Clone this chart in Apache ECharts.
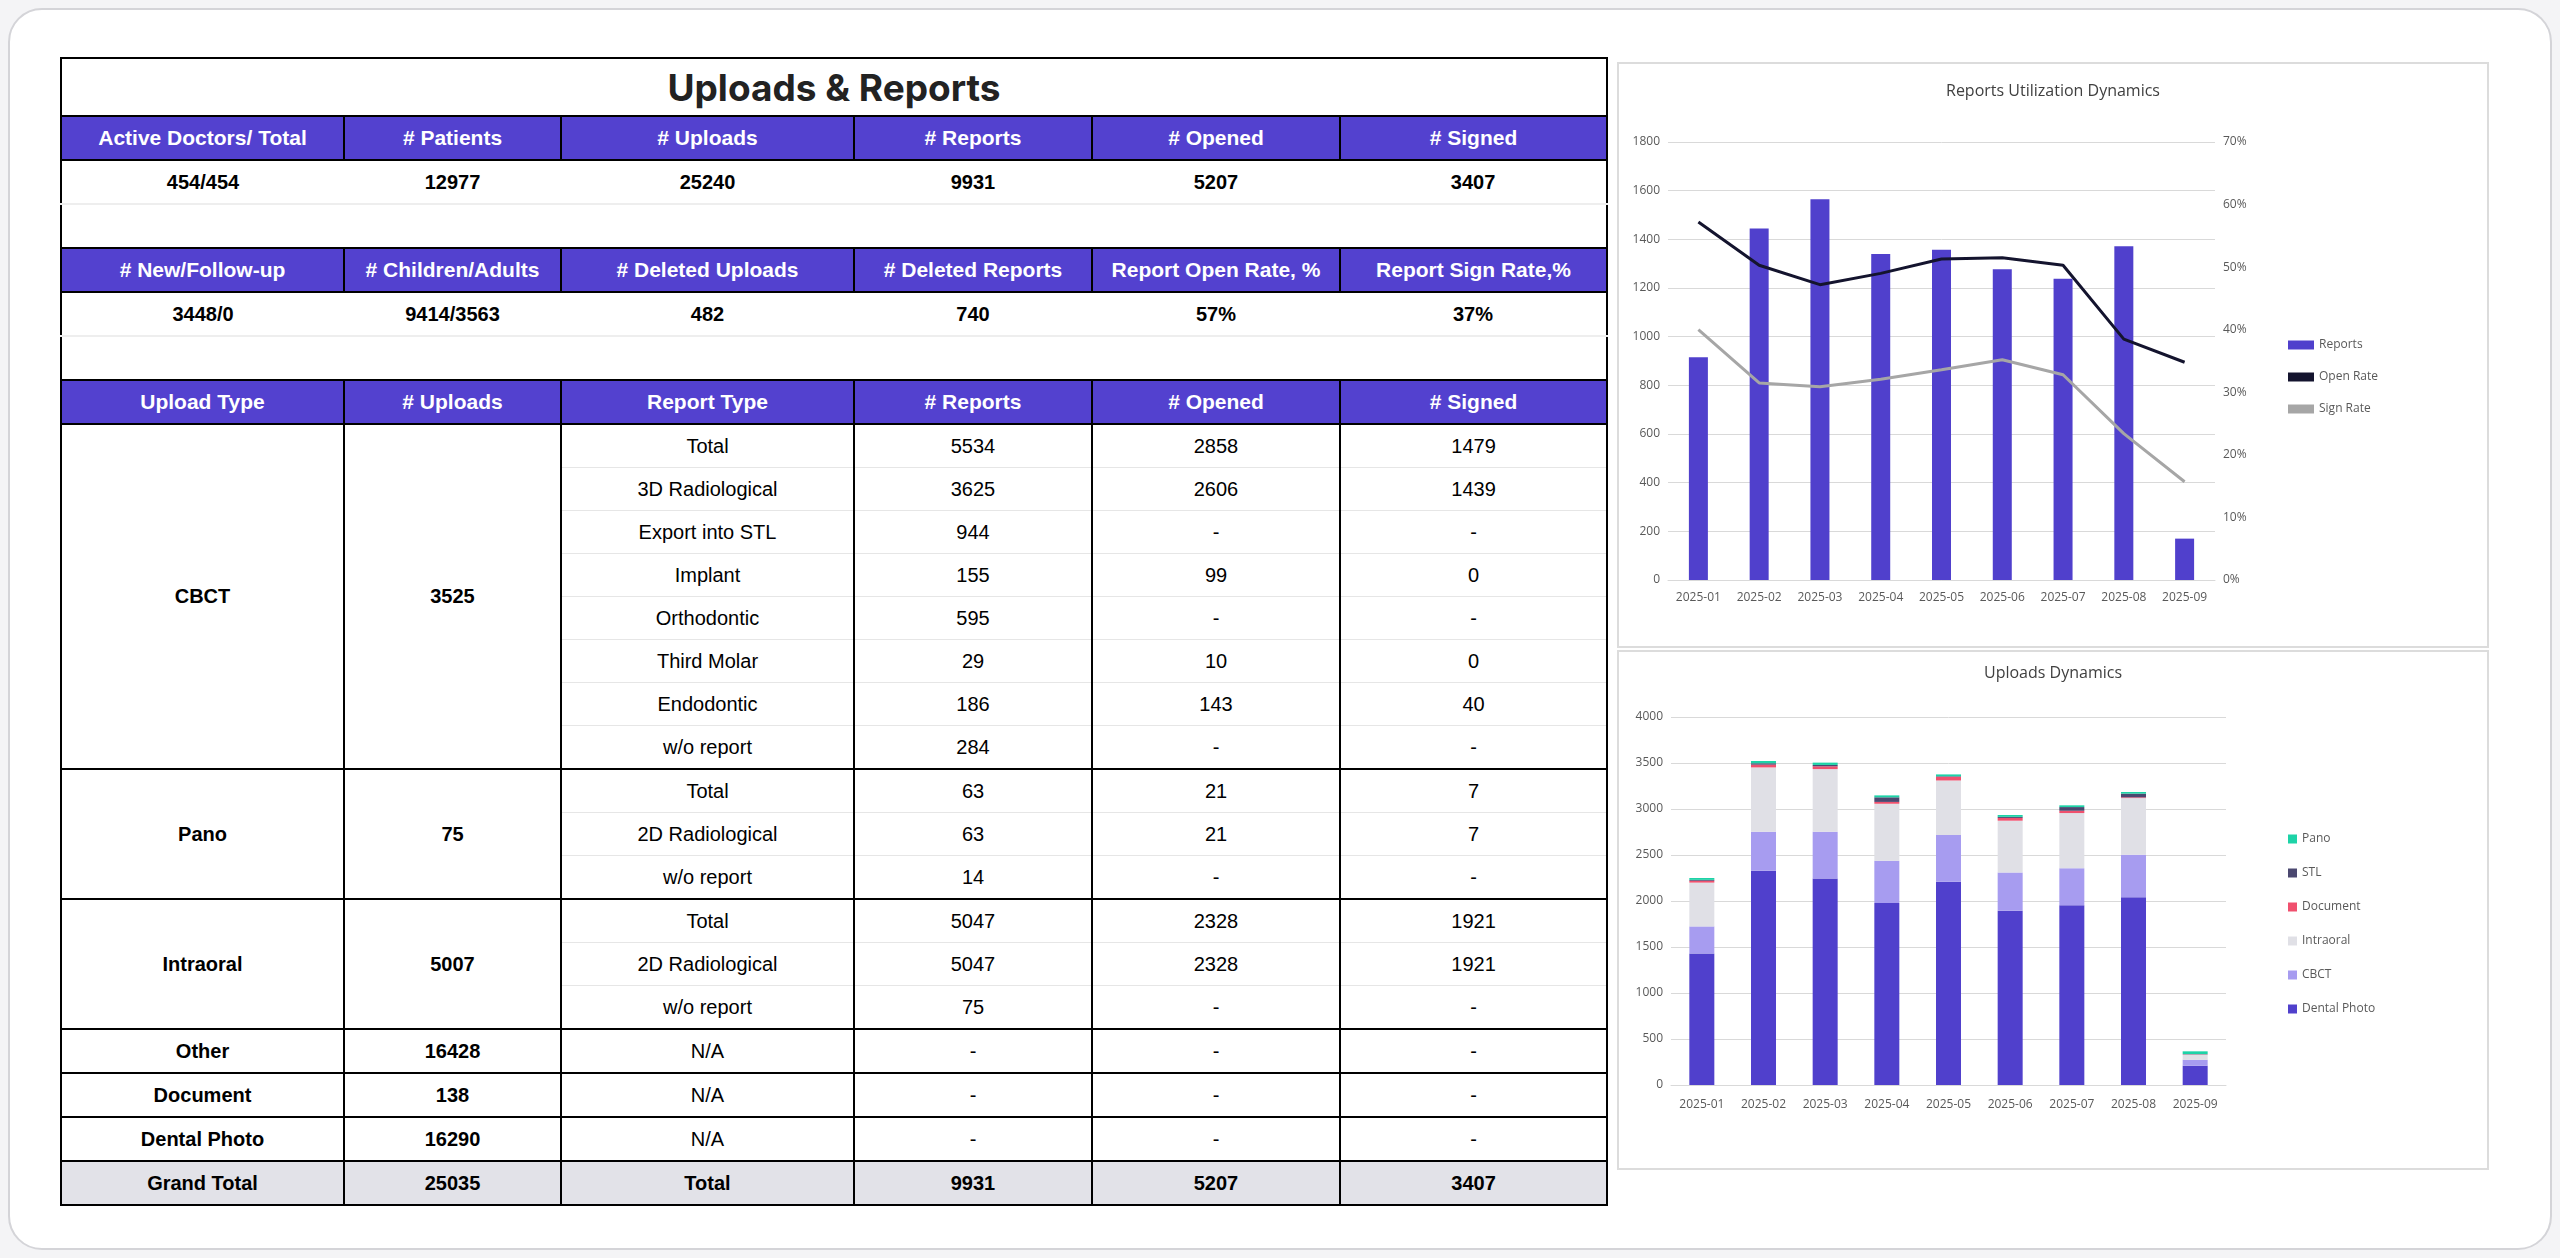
<!DOCTYPE html>
<html>
<head>
<meta charset="utf-8">
<script src="https://cdn.jsdelivr.net/npm/echarts@6/dist/echarts.min.js"></script>
<style>
  html, body { margin: 0; padding: 0; background: #f4f4f6; }
  body { width: 2560px; height: 1258px; position: relative; overflow: hidden; font-family: "Liberation Sans", Arial, sans-serif; }
  #card { position: absolute; left: 8px; top: 8px; width: 2540px; height: 1238px; background: #fff; border: 2px solid #d4d4d8; border-radius: 34px; }
  #tbl { position: absolute; left: 60px; top: 57px; border-collapse: collapse; table-layout: fixed; width: 1546px; }
  #tbl td { text-align: center; vertical-align: middle; height: 42px; padding: 0; font-size: 20px; color: #000; }
  #tbl td.title { height: 56px; font-family: Inter, sans-serif; font-weight: 700; font-size: 37px; color: #222; border: 2px solid #000; }
  #tbl tr.hd td { background: #5341cf; color: #fff; font-weight: 700; font-size: 21px; border: 2px solid #000; }
  #tbl tr.val td { font-weight: 700; border-bottom: 2px solid #eeeeee; }
  #tbl tr.val td:first-child, #tbl tr.blank td:first-child { border-left: 2px solid #000; }
  #tbl tr.val td:last-child, #tbl tr.blank td:last-child { border-right: 2px solid #000; }
  #tbl tr.row td { border-left: 2px solid #000; border-right: 2px solid #000; border-bottom: 1px solid #e6e6e6; }
  #tbl tr.gstart td { border-top: 2px solid #000; }
  #tbl td.grp { font-weight: 700; border: 2px solid #000; }
  #tbl tr.gt td { background: #e2e2e8; font-weight: 700; border: 2px solid #000; }
  .panel { position: absolute; border: 2px solid #dcdcdc; background: #fff; }
</style>
</head>
<body>
<div id="card"></div>
<table id="tbl"></table>
<div id="c1" class="panel" style="left:1617px;top:62px;width:868px;height:582px;"></div>
<div id="c2" class="panel" style="left:1617px;top:650px;width:868px;height:516px;"></div>
<script>
// table
var head1 = ['Active Doctors/ Total', '# Patients', '# Uploads', '# Reports', '# Opened', '# Signed'];
var vals1 = ['454/454', '12977', '25240', '9931', '5207', '3407'];
var head2 = ['# New/Follow-up', '# Children/Adults', '# Deleted Uploads', '# Deleted Reports', 'Report Open Rate, %', 'Report Sign Rate,%'];
var vals2 = ['3448/0', '9414/3563', '482', '740', '57%', '37%'];
var head3 = ['Upload Type', '# Uploads', 'Report Type', '# Reports', '# Opened', '# Signed'];
var groups = [
  ['CBCT', '3525', [['Total', '5534', '2858', '1479'], ['3D Radiological', '3625', '2606', '1439'], ['Export into STL', '944', '-', '-'],
    ['Implant', '155', '99', '0'], ['Orthodontic', '595', '-', '-'], ['Third Molar', '29', '10', '0'], ['Endodontic', '186', '143', '40'], ['w/o report', '284', '-', '-']]],
  ['Pano', '75', [['Total', '63', '21', '7'], ['2D Radiological', '63', '21', '7'], ['w/o report', '14', '-', '-']]],
  ['Intraoral', '5007', [['Total', '5047', '2328', '1921'], ['2D Radiological', '5047', '2328', '1921'], ['w/o report', '75', '-', '-']]],
  ['Other', '16428', [['N/A', '-', '-', '-']]],
  ['Document', '138', [['N/A', '-', '-', '-']]],
  ['Dental Photo', '16290', [['N/A', '-', '-', '-']]]
];
var grandTotal = ['Grand Total', '25035', 'Total', '9931', '5207', '3407'];

function tds(a) { return a.map(function (v) { return '<td>' + v + '</td>'; }).join(''); }
var h = '<colgroup><col style="width:283px"><col style="width:217px"><col style="width:293px"><col style="width:238px"><col style="width:248px"><col style="width:267px"></colgroup>';
h += '<tr><td class="title" colspan="6">Uploads &amp; Reports</td></tr>';
h += '<tr class="hd">' + tds(head1) + '</tr><tr class="val">' + tds(vals1) + '</tr><tr class="blank"><td></td><td colspan="4"></td><td></td></tr>';
h += '<tr class="hd">' + tds(head2) + '</tr><tr class="val">' + tds(vals2) + '</tr><tr class="blank"><td></td><td colspan="4"></td><td></td></tr>';
h += '<tr class="hd">' + tds(head3) + '</tr>';
groups.forEach(function (g) {
  g[2].forEach(function (r, i) {
    h += '<tr class="row' + (i === 0 ? ' gstart' : '') + '">';
    if (i === 0) h += '<td class="grp" rowspan="' + g[2].length + '">' + g[0] + '</td><td class="grp" rowspan="' + g[2].length + '">' + g[1] + '</td>';
    h += tds(r) + '</tr>';
  });
});
h += '<tr class="gt">' + tds(grandTotal) + '</tr>';
document.getElementById('tbl').innerHTML = h;

// charts
var months = ['2025-01', '2025-02', '2025-03', '2025-04', '2025-05', '2025-06', '2025-07', '2025-08', '2025-09'];
var reports = [915, 1445, 1565, 1340, 1357, 1277, 1238, 1372, 170];
var openRate = [57.2, 50.3, 47.2, 49.0, 51.3, 51.5, 50.3, 38.5, 34.8];
var signRate = [40.0, 31.5, 30.9, 32.1, 33.6, 35.2, 32.8, 23.4, 15.7];

var dentalPhoto = [1430, 2330, 2245, 1978, 2210, 1895, 1955, 2040, 210];
var cbct = [294, 423, 508, 460, 507, 416, 400, 463, 65];
var intraoral = [476, 699, 681, 619, 593, 562, 601, 616, 55];
var documentUp = [20, 30, 30, 20, 40, 30, 25, 8, 3];
var stl = [10, 15, 15, 50, 6, 12, 40, 40, 3];
var pano = [20, 25, 25, 21, 20, 20, 19, 18, 30];

var axisTxt = { color: '#595959', fontSize: 12, fontFamily: 'Open Sans' };
var plain = function (v) { return String(v); };

var chart1 = echarts.init(document.getElementById('c1'));
chart1.setOption({
  animation: false,
  title: { text: 'Reports Utilization Dynamics', left: 'center', top: 14, textStyle: { fontSize: 16, fontWeight: 'normal', color: '#404040', fontFamily: 'Open Sans' } },
  grid: { left: 49, top: 78, width: 547, height: 438 },
  legend: { orient: 'vertical', left: 664, top: 270, itemGap: 20, itemWidth: 26, itemHeight: 9, textStyle: { fontSize: 12, color: '#595959', fontFamily: 'Open Sans' },
    data: [{ name: 'Reports', icon: 'rect' }, { name: 'Open Rate', icon: 'rect' }, { name: 'Sign Rate', icon: 'rect' }] },
  xAxis: { type: 'category', data: months, axisTick: { show: false }, axisLine: { lineStyle: { color: '#d9d9d9' } }, axisLabel: Object.assign({ margin: 12, fontSize: 11 }, axisTxt) },
  yAxis: [
    { type: 'value', min: 0, max: 1800, interval: 200, axisLabel: Object.assign({ formatter: plain }, axisTxt), splitLine: { lineStyle: { color: '#d9d9d9' } } },
    { type: 'value', min: 0, max: 70, interval: 10, axisLabel: Object.assign({ formatter: '{value}%', fontSize: 11 }, axisTxt), splitLine: { show: false } }
  ],
  series: [
    { name: 'Reports', type: 'bar', data: reports, barWidth: 19, itemStyle: { color: '#5040cc' } },
    { name: 'Open Rate', type: 'line', yAxisIndex: 1, data: openRate, symbol: 'none', lineStyle: { color: '#14142e', width: 3 }, itemStyle: { color: '#14142e' } },
    { name: 'Sign Rate', type: 'line', yAxisIndex: 1, data: signRate, symbol: 'none', lineStyle: { color: '#a6a6a6', width: 3 }, itemStyle: { color: '#a6a6a6' } }
  ]
});

var chart2 = echarts.init(document.getElementById('c2'));
var stackDefs = [
  ['Dental Photo', dentalPhoto, '#5040cc'], ['CBCT', cbct, '#a79cf0'], ['Intraoral', intraoral, '#e0e0e6'],
  ['Document', documentUp, '#f0506e'], ['STL', stl, '#4b4870'], ['Pano', pano, '#1dd3a7']
];
chart2.setOption({
  animation: false,
  title: { text: 'Uploads Dynamics', left: 'center', top: 8, textStyle: { fontSize: 16, fontWeight: 'normal', color: '#404040', fontFamily: 'Open Sans' } },
  grid: { left: 52, top: 65, width: 555, height: 368 },
  legend: { orient: 'vertical', left: 664, top: 176, itemGap: 22, itemWidth: 9, itemHeight: 9, icon: 'rect',
    textStyle: { fontSize: 12, color: '#595959', fontFamily: 'Open Sans' },
    data: ['Pano', 'STL', 'Document', 'Intraoral', 'CBCT', 'Dental Photo'] },
  xAxis: { type: 'category', data: months, axisTick: { show: false }, axisLine: { lineStyle: { color: '#d9d9d9' } }, axisLabel: Object.assign({ margin: 14 }, axisTxt) },
  yAxis: { type: 'value', min: 0, max: 4000, interval: 500, axisLabel: Object.assign({ formatter: plain }, axisTxt), splitLine: { lineStyle: { color: '#d9d9d9' } } },
  series: stackDefs.map(function (d) {
    return { name: d[0], type: 'bar', stack: 'up', data: d[1], barWidth: 25, itemStyle: { color: d[2] } };
  })
});
</script>
</body>
</html>
